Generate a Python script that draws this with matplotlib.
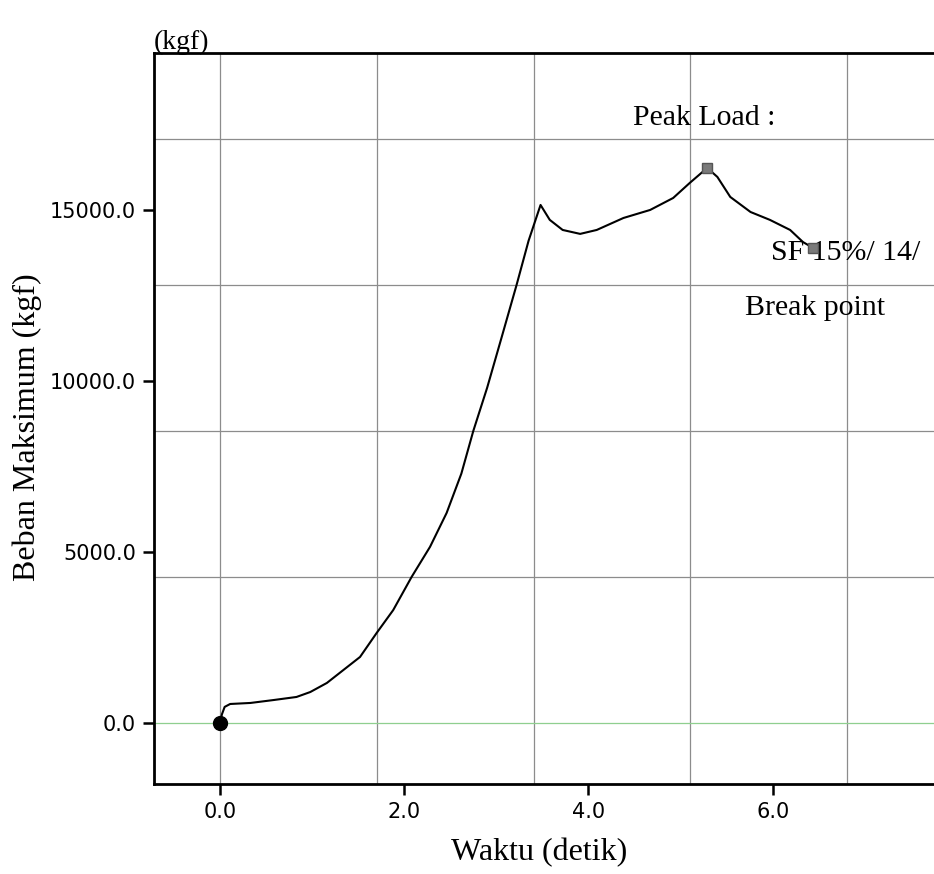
import matplotlib
matplotlib.use("Agg")
import matplotlib.pyplot as plt

# Load-time record of the concrete compression test
waktu = [0.0, 0.02, 0.05, 0.11, 0.33, 0.58, 0.83, 0.98, 1.16, 1.34, 1.52, 1.70,
         1.88, 2.08, 2.28, 2.46, 2.62, 2.75, 2.90, 3.06, 3.22, 3.35, 3.48, 3.58,
         3.72, 3.91, 4.09, 4.38, 4.67, 4.92, 5.10, 5.29, 5.40, 5.54, 5.76, 5.97,
         6.19, 6.33, 6.44]
beban = [0, 250, 470, 555, 585, 670, 760, 905, 1170, 1550, 1930, 2630,
         3300, 4270, 5150, 6140, 7290, 8540, 9800, 11300, 12810, 14100, 15146, 14710,
         14415, 14300, 14415, 14765, 15000, 15350, 15790, 16230, 15965, 15380, 14940, 14710,
         14415, 14060, 13890]

peak_t, peak_load = 5.29, 16230
break_t, break_load = 6.44, 13890

x_ticks = [0.0, 2.0, 4.0, 6.0]
y_ticks = [0.0, 5000.0, 10000.0, 15000.0]

# grid of the test machine printout (not tied to the tick marks)
grid_x = [0.0, 1.702, 3.404, 5.106, 6.808]
grid_y = [4265, 8530, 12795, 17060]

serif = "Liberation Serif"
tick_font = "DejaVu Sans"

fig = plt.figure(figsize=(9.34, 8.74), dpi=100)
ax = fig.add_axes([0.1649, 0.103, 0.863, 0.8364])

for gx in grid_x:
    ax.axvline(gx, color="#8c8c8c", lw=0.9, zorder=1)
for gy in grid_y:
    ax.axhline(gy, color="#8c8c8c", lw=0.9, zorder=1)
ax.axhline(0, color="#8fcf8f", lw=0.9, zorder=1)

ax.plot(waktu, beban, color="black", lw=1.5, zorder=3)
ax.plot(0, 0, "o", color="black", ms=10, zorder=4)
ax.plot(peak_t, peak_load, "s", color="#7a7a7a", mec="#555555", ms=7.5, zorder=4)
ax.plot(break_t, break_load, "s", color="#7a7a7a", mec="#555555", ms=7.5, zorder=4)

ax.set_xlim(-0.717, 8.035)
ax.set_ylim(-1784, 19590)

ax.set_xticks(x_ticks)
ax.set_yticks(y_ticks)
ax.set_xticklabels([f"{v:.1f}" for v in x_ticks], fontfamily=tick_font, fontsize=15)
ax.set_yticklabels([f"{v:.1f}" for v in y_ticks], fontfamily=tick_font, fontsize=15)
ax.tick_params(direction="out", length=8, width=1.8, pad=5)

for side in ("left", "top", "bottom", "right"):
    ax.spines[side].set_linewidth(2)

ax.text(-0.72, 20263, "(kgf)", fontfamily=serif, fontsize=20, va="top", ha="left")
ax.text(4.48, 17485, "Peak Load :", fontfamily=serif, fontsize=21.5, va="baseline")
ax.text(5.98, 13540, "SF 15%/ 14/", fontfamily=serif, fontsize=21.5, va="baseline", zorder=2)
ax.text(5.70, 11930, "Break point", fontfamily=serif, fontsize=21.5, va="baseline")

fig.text(0.029, 0.5114, "Beban Maksimum (kgf)", fontfamily=serif, fontsize=23,
         rotation=90, ha="center", va="center")
fig.text(0.577, 0.024, "Waktu (detik)", fontfamily=serif, fontsize=23,
         ha="center", va="center")

fig.savefig("out.png", dpi=100, facecolor="white")
